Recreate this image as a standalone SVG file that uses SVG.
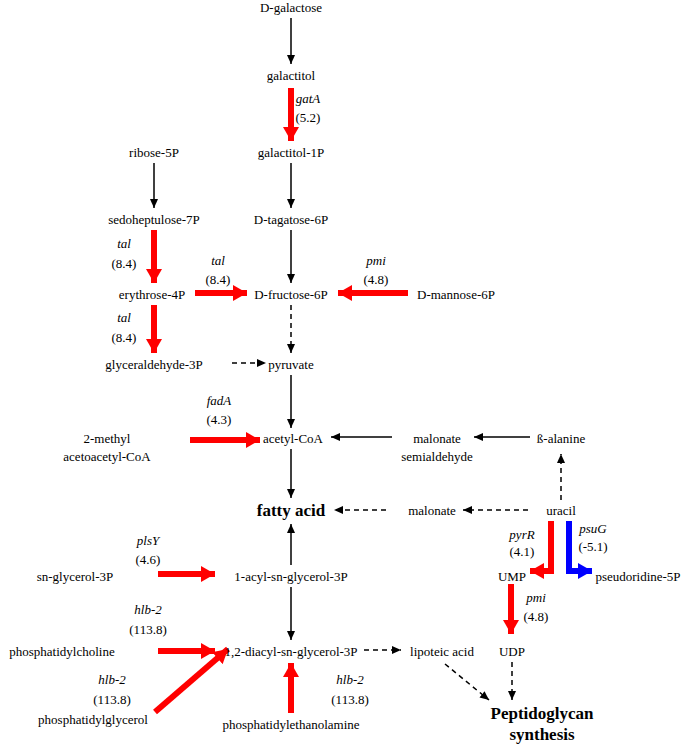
<svg xmlns="http://www.w3.org/2000/svg" width="685" height="751" viewBox="0 0 685 751" font-family="'Liberation Serif','Times New Roman','DejaVu Serif',serif">
<style>
text{font-family:'Liberation Serif','Times New Roman','DejaVu Serif',serif;font-size:13px;text-anchor:middle;fill:#000}
.i{font-style:italic}
.b{font-weight:bold;font-size:17px}
.k{stroke:#000;stroke-width:1.5;fill:none;marker-end:url(#ak)}
.d{stroke:#000;stroke-width:1.5;fill:none;stroke-dasharray:5,4;marker-end:url(#ak)}
.r{stroke:#f00;stroke-width:6;fill:none;marker-end:url(#ar)}
.u{stroke:#00f;stroke-width:6;fill:none;marker-end:url(#au)}
</style>
<defs>
<marker id="ak" markerUnits="userSpaceOnUse" markerWidth="10" markerHeight="10" refX="9" refY="5" orient="auto"><path d="M0,1 L9,5 L0,9 Z" fill="#000"/></marker>
<marker id="ar" markerUnits="userSpaceOnUse" markerWidth="16" markerHeight="16" refX="14" refY="8" orient="auto"><path d="M0,0 L14,8 L0,16 Z" fill="#f00"/></marker>
<marker id="au" markerUnits="userSpaceOnUse" markerWidth="16" markerHeight="16" refX="14" refY="8" orient="auto"><path d="M0,0 L14,8 L0,16 Z" fill="#00f"/></marker>
</defs>
<g id="connectors">
<line class="k" x1="291" y1="18" x2="291" y2="64"/>
<line class="r" x1="291" y1="88" x2="291" y2="141"/>
<line class="k" x1="291" y1="163" x2="291" y2="208"/>
<line class="k" x1="154" y1="163" x2="154" y2="208"/>
<line class="r" x1="154" y1="230" x2="154" y2="283"/>
<line class="k" x1="291" y1="230" x2="291" y2="283"/>
<line class="r" x1="195" y1="293" x2="247" y2="293"/>
<line class="r" x1="408" y1="293" x2="338" y2="293"/>
<line class="r" x1="154" y1="305" x2="154" y2="353"/>
<line class="d" x1="291" y1="305" x2="291" y2="353"/>
<line class="d" x1="232" y1="363" x2="266" y2="363"/>
<line class="k" x1="291" y1="375" x2="291" y2="428"/>
<line class="r" x1="190" y1="440" x2="260" y2="440"/>
<line class="k" x1="392" y1="437" x2="331" y2="437"/>
<line class="k" x1="530" y1="437" x2="474" y2="437"/>
<line class="k" x1="291" y1="449" x2="291" y2="498"/>
<line class="d" x1="561" y1="500" x2="561" y2="454"/>
<line class="d" x1="528" y1="510" x2="463" y2="510"/>
<line class="d" x1="386" y1="510" x2="334" y2="510"/>
<polyline class="r" points="551,521 551,571 530,571"/>
<polyline class="u" points="569,521 569,571 592,571"/>
<line class="r" x1="511" y1="584" x2="511" y2="634"/>
<line class="r" x1="158" y1="574" x2="215" y2="574"/>
<line class="k" x1="291" y1="565" x2="291" y2="524"/>
<line class="k" x1="291" y1="587" x2="291" y2="640"/>
<line class="r" x1="158" y1="651" x2="215" y2="651"/>
<line class="r" x1="155" y1="712" x2="228" y2="649"/>
<line class="r" x1="291" y1="713" x2="291" y2="663"/>
<line class="d" x1="364" y1="650" x2="401" y2="650"/>
<line class="d" x1="445" y1="664" x2="489" y2="700"/>
<line class="d" x1="512" y1="662" x2="512" y2="700"/>
</g>
<g id="n1"><text x="291" y="12">D-galactose</text></g>
<g id="n2"><text x="291" y="80">galactitol</text></g>
<g id="l1"><text class="i" x="308" y="103">gatA</text><text x="308" y="122">(5.2)</text></g>
<g id="n3"><text x="291" y="157">galactitol-1P</text></g>
<g id="n4"><text x="154" y="157">ribose-5P</text></g>
<g id="n5"><text x="154" y="224">sedoheptulose-7P</text></g>
<g id="n6"><text x="291" y="224">D-tagatose-6P</text></g>
<g id="l2"><text class="i" x="124" y="248">tal</text><text x="124" y="268">(8.4)</text></g>
<g id="l3"><text class="i" x="218" y="265">tal</text><text x="218" y="284">(8.4)</text></g>
<g id="l4"><text class="i" x="376" y="265">pmi</text><text x="376" y="284">(4.8)</text></g>
<g id="n7"><text x="152" y="299">erythrose-4P</text></g>
<g id="n8"><text x="291" y="299">D-fructose-6P</text></g>
<g id="n9"><text x="456" y="299">D-mannose-6P</text></g>
<g id="l5"><text class="i" x="124" y="322">tal</text><text x="124" y="342">(8.4)</text></g>
<g id="n10"><text x="154" y="369">glyceraldehyde-3P</text></g>
<g id="n11"><text x="291" y="369">pyruvate</text></g>
<g id="l6"><text class="i" x="219" y="405">fadA</text><text x="219" y="424">(4.3)</text></g>
<g id="n12"><text x="107" y="443">2-methyl</text><text x="107" y="461">acetoacetyl-CoA</text></g>
<g id="n13"><text x="293" y="443">acetyl-CoA</text></g>
<g id="n14"><text x="437" y="443">malonate</text><text x="437" y="461">semialdehyde</text></g>
<g id="n15"><text x="561" y="443">ß-alanine</text></g>
<g id="n16"><text class="b" x="291" y="516">fatty acid</text></g>
<g id="n17"><text x="432" y="515">malonate</text></g>
<g id="n18"><text x="561" y="515">uracil</text></g>
<g id="l7"><text class="i" x="522" y="539">pyrR</text><text x="522" y="556">(4.1)</text></g>
<g id="l8"><text class="i" x="593" y="533">psuG</text><text x="593" y="551">(-5.1)</text></g>
<g id="l9"><text class="i" x="148" y="545">plsY</text><text x="148" y="564">(4.6)</text></g>
<g id="n19"><text x="75" y="581">sn-glycerol-3P</text></g>
<g id="n20"><text x="291" y="581">1-acyl-sn-glycerol-3P</text></g>
<g id="n21"><text x="512" y="581">UMP</text></g>
<g id="n22"><text x="638" y="581">pseudoridine-5P</text></g>
<g id="l10"><text class="i" x="536" y="602">pmi</text><text x="536" y="621">(4.8)</text></g>
<g id="l11"><text class="i" x="148" y="614">hlb-2</text><text x="148" y="634">(113.8)</text></g>
<g id="n23"><text x="62" y="656">phosphatidylcholine</text></g>
<g id="n24"><text x="291" y="656">1,2-diacyl-sn-glycerol-3P</text></g>
<g id="n25"><text x="442" y="656">lipoteic acid</text></g>
<g id="n26"><text x="512" y="656">UDP</text></g>
<g id="l12"><text class="i" x="112" y="684">hlb-2</text><text x="112" y="704">(113.8)</text></g>
<g id="l13"><text class="i" x="350" y="684">hlb-2</text><text x="350" y="704">(113.8)</text></g>
<g id="n27"><text x="93" y="724">phosphatidylglycerol</text></g>
<g id="n28"><text x="291" y="729">phosphatidylethanolamine</text></g>
<g id="n29"><text class="b" x="542" y="719">Peptidoglycan</text><text class="b" x="542" y="740">synthesis</text></g>
</svg>
